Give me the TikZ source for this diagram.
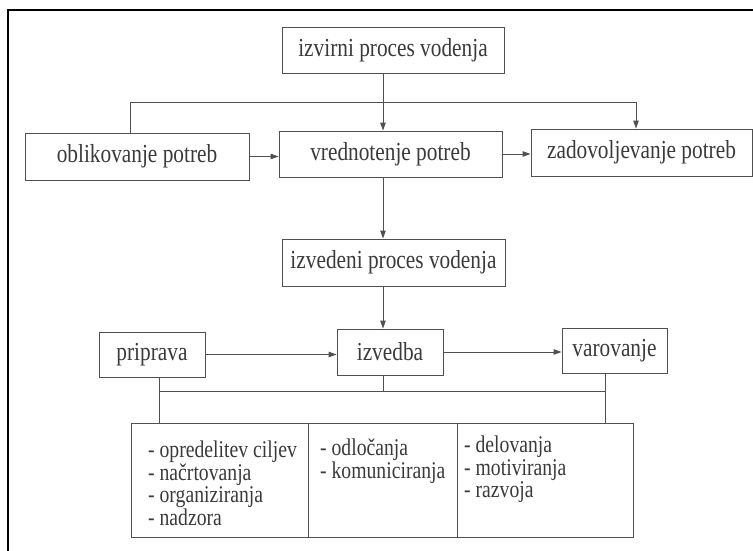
\documentclass[tikz,border=0pt]{standalone}
\usepackage{fontspec}
\setmainfont{Liberation Serif}[FakeStretch=0.82]
\usetikzlibrary{arrows.meta}
\definecolor{ink}{HTML}{3A3A3A}
\definecolor{edge}{HTML}{505050}
\begin{document}
\begin{tikzpicture}[x=1pt,y=-1pt,
  box/.style={draw=edge,line width=0.9pt,inner sep=0pt,text=ink,
    font=\fontsize{26}{28}\selectfont},
  conn/.style={draw=edge,line width=0.9pt},
  arr/.style={conn,-{Triangle[length=8pt,width=5.5pt]}},
  listtext/.style={anchor=north west,inner sep=0pt,align=left,text=ink,
    font=\fontsize{24}{22.5}\selectfont},
  frameline/.style={draw=black,line width=1.6pt}]
\useasboundingbox (0,0) rectangle (753,551);
\draw[frameline] (8,551) -- (8,10) -- (753,10);

\node[box,minimum width=222pt,minimum height=46pt] (izv) at (393,50) {izvirni proces vodenja};
\node[box,minimum width=224pt,minimum height=47pt] (obl) at (137,156.5) {oblikovanje potreb};
\node[box,minimum width=223pt,minimum height=46pt] (vred) at (390.5,154) {vrednotenje potreb};
\node[box,minimum width=221pt,minimum height=47pt] (zad) at (641.5,152.5) {zadovoljevanje potreb};
\node[box,minimum width=223pt,minimum height=47pt] (ived) at (393.5,262.5) {izvedeni proces vodenja};
\node[box,minimum width=106pt,minimum height=45pt] (pri) at (152,354.5) {priprava};
\node[box,minimum width=106pt,minimum height=46pt] (izb) at (390,352) {izvedba};
\node[box,minimum width=105pt,minimum height=45pt] (var) at (614.5,350.5) {varovanje};
\node[box,minimum width=502pt,minimum height=114pt] (bot) at (382,480) {};
\draw[conn] ([xshift=178pt]bot.north west) -- ([xshift=178pt]bot.south west);
\draw[conn] ([xshift=327pt]bot.north west) -- ([xshift=327pt]bot.south west);

\node[listtext] (l1) at (148,441) {- opredelitev ciljev\\- načrtovanja\\- organiziranja\\- nadzora};
\node[listtext] (l2) at (320,439) {- odločanja\\- komuniciranja};
\node[listtext] (l3) at (464,436) {- delovanja\\- motiviranja\\- razvoja};

\coordinate (cx) at (383,0);
\coordinate (lx) at (130,102);
\coordinate (rx) at (636,102);
\coordinate (bl) at (159,391);
\coordinate (br) at (605,391);

\draw[arr] (izv.south -| cx) -- (vred.north -| cx);
\draw[conn] (obl.north -| lx) -- (lx) -- (rx);
\draw[arr] (rx) -- (zad.north -| rx);
\draw[arr] (obl.east) -- (vred.west |- obl.east);
\draw[arr] (vred.east) -- (zad.west |- vred.east);
\draw[arr] (vred.south -| cx) -- (ived.north -| cx);
\draw[arr] (ived.south -| cx) -- (izb.north -| cx);
\draw[arr] (pri.east) -- (izb.west |- pri.east);
\draw[arr] (izb.east) -- (var.west |- izb.east);
\draw[conn] (pri.south -| bl) -- (bot.north -| bl);
\draw[conn] (bl) -- (br);
\draw[conn] (izb.south -| cx) -- (cx |- bl);
\draw[conn] (var.south -| br) -- (bot.north -| br);
\end{tikzpicture}
\end{document}
